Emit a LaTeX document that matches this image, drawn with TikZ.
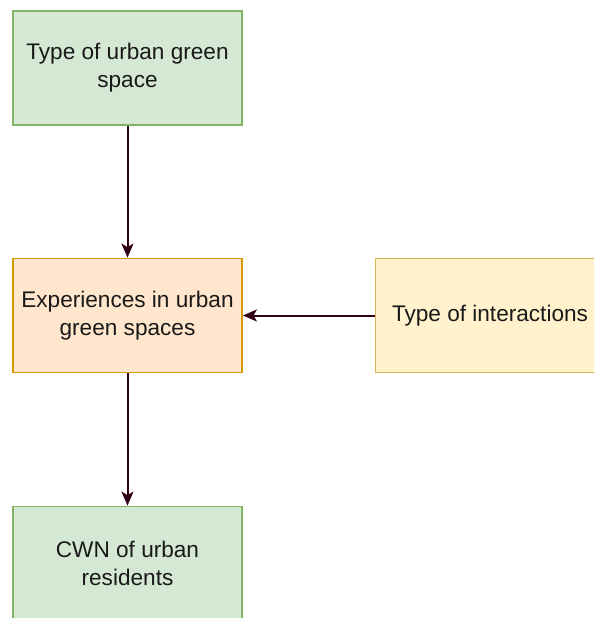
\documentclass[tikz,border=0pt]{standalone}
\usepackage{fontspec}
\setmainfont{Liberation Sans}
\usetikzlibrary{arrows.meta}
\definecolor{greenfill}{HTML}{D5E8D4}
\definecolor{greenline}{HTML}{82B366}
\definecolor{orangefill}{HTML}{FFE6CC}
\definecolor{orangeline}{HTML}{D79B00}
\definecolor{yellowfill}{HTML}{FFF2CC}
\definecolor{yellowline}{HTML}{D6B656}
\definecolor{linkcol}{HTML}{33001A}
\tikzset{
  box/.style={draw, line width=1.8pt, minimum width=229pt, minimum height=114pt,
    inner sep=0pt, align=center, font=\fontsize{22.6}{28}\selectfont, text=black!90},
  greenbox/.style={box, fill=greenfill, draw=greenline},
  orangebox/.style={box, fill=orangefill, draw=orangeline},
  yellowbox/.style={box, fill=yellowfill, draw=yellowline},
  link/.style={draw=linkcol, line width=2pt,
    -{Stealth[length=14pt, width=12pt, inset=3.5pt]}}
}
\begin{document}
\begin{tikzpicture}[x=1pt, y=-1pt]
  \useasboundingbox (0,0) rectangle (594,618);
  \clip (0,0) rectangle (594,618);
  \node[greenbox]  (space)  at (127.5, 68)    {Type of urban green\\space};
  \node[orangebox] (exp)    at (127.5, 315.5) {Experiences in urban\\green spaces};
  \node[yellowbox] (inter)  at (490, 315.5)   {Type of interactions};
  \node[greenbox]  (cwn)    at (127.5, 563.5) {CWN of urban\\residents};
  \draw[link] (space) -- (exp);
  \draw[link] (inter) -- (exp);
  \draw[link] (exp) -- (cwn);
\end{tikzpicture}
\end{document}
